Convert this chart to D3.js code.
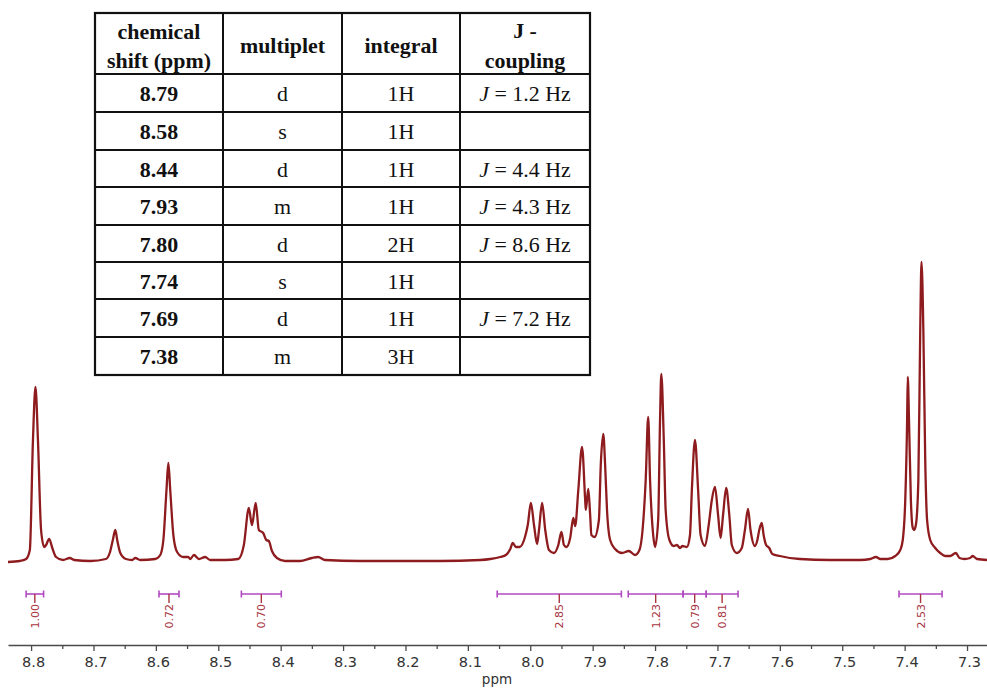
<!DOCTYPE html>
<html>
<head>
<meta charset="utf-8">
<script src="https://cdn.jsdelivr.net/npm/d3@7/dist/d3.min.js"></script>
<style>
  html, body { margin: 0; padding: 0; background: #ffffff; }
  svg { display: block; }
</style>
</head>
<body>
<svg id="chart" width="987" height="688"></svg>
<script>
// 1H NMR trace: chemical shift (ppm) and signal intensity (arbitrary units)
const shiftPpm = [
  8.837, 8.818, 8.808, 8.802, 8.797, 8.793, 8.789, 8.784, 8.779, 8.776, 8.771, 8.766, 8.760, 8.749, 8.738, 8.731,
  8.705, 8.680, 8.674, 8.669, 8.665, 8.662, 8.657, 8.648, 8.638, 8.633, 8.625, 8.601, 8.593, 8.588, 8.583, 8.580,
  8.577, 8.572, 8.566, 8.556, 8.548, 8.545, 8.539, 8.531, 8.521, 8.513, 8.489, 8.468, 8.459, 8.451, 8.446, 8.440,
  8.435, 8.428, 8.423, 8.419, 8.414, 8.406, 8.393, 8.369, 8.350, 8.340, 8.329, 8.273, 8.209, 8.145, 8.080, 8.064,
  8.048, 8.039, 8.032, 8.028, 8.023, 8.017, 8.008, 8.004, 7.999, 7.994, 7.989, 7.986, 7.981, 7.976, 7.970, 7.962,
  7.955, 7.950, 7.946, 7.942, 7.936, 7.931, 7.928, 7.923, 7.917, 7.912, 7.911, 7.907, 7.904, 7.902, 7.897, 7.890,
  7.887, 7.883, 7.880, 7.877, 7.872, 7.864, 7.853, 7.842, 7.832, 7.825, 7.820, 7.815, 7.811, 7.808, 7.803, 7.800,
  7.795, 7.792, 7.790, 7.786, 7.783, 7.777, 7.770, 7.765, 7.760, 7.756, 7.749, 7.744, 7.741, 7.736, 7.731, 7.727,
  7.720, 7.714, 7.709, 7.704, 7.699, 7.695, 7.691, 7.686, 7.681, 7.677, 7.669, 7.661, 7.656, 7.651, 7.647, 7.640,
  7.636, 7.633, 7.629, 7.626, 7.622, 7.617, 7.612, 7.600, 7.568, 7.520, 7.471, 7.455, 7.446, 7.439, 7.427, 7.415,
  7.407, 7.403, 7.399, 7.396, 7.395, 7.393, 7.390, 7.387, 7.385, 7.382, 7.378, 7.375, 7.373, 7.370, 7.367, 7.364,
  7.359, 7.351, 7.343, 7.335, 7.327, 7.318, 7.312, 7.304, 7.295, 7.291, 7.284, 7.268
];
const signal = [
  0, 1, 3, 12, 122, 175, 122, 32, 15, 17, 23, 14, 5, 2, 4, 2,
  1, 3, 9, 22, 32, 22, 9, 3, 2, 4, 2, 3, 7, 22, 72, 99,
  72, 27, 10, 5, 5, 3, 7, 3, 5, 2, 2, 3, 17, 54, 37, 59,
  32, 29, 22, 21, 11, 4, 1, 1, 4, 5, 2, 1, 1, 1, 2, 3,
  5, 7, 13, 19, 15, 15, 26, 37, 59, 37, 18, 32, 59, 32, 12, 9,
  17, 30, 17, 15, 24, 44, 36, 72, 115, 62, 52, 73, 47, 27, 25, 42,
  97, 128, 97, 52, 22, 13, 9, 11, 7, 12, 32, 82, 145, 82, 27, 15,
  42, 142, 188, 122, 52, 22, 16, 17, 14, 16, 15, 27, 72, 122, 72, 27,
  16, 37, 62, 75, 47, 24, 47, 74, 47, 17, 9, 14, 32, 53, 32, 16,
  22, 32, 39, 27, 17, 14, 8, 6, 3, 2, 2, 3, 5, 3, 3, 6,
  12, 22, 62, 142, 185, 142, 62, 34, 32, 37, 82, 232, 300, 232, 102, 42,
  22, 14, 9, 6, 6, 9, 4, 3, 4, 6, 3, 2
];

// Integral regions (ppm) and their normalised areas
const integralFrom  = [8.808, 8.595, 8.463, 8.053, 7.843, 7.755, 7.718, 7.409];
const integralTo    = [8.780, 8.563, 8.399, 7.854, 7.755, 7.718, 7.667, 7.340];
const integralValue = ["1.00", "0.72", "0.70", "2.85", "1.23", "0.79", "0.81", "2.53"];

// Axis ticks
const majorTicks = [8.8, 8.7, 8.6, 8.5, 8.4, 8.3, 8.2, 8.1, 8.0, 7.9, 7.8, 7.7, 7.6, 7.5, 7.4, 7.3];
const minorTicks = [8.75, 8.65, 8.55, 8.45, 8.35, 8.25, 8.15, 8.05, 7.95, 7.85, 7.75, 7.65, 7.55, 7.45, 7.35];

// Peak assignment table
const tableShift     = ["8.79", "8.58", "8.44", "7.93", "7.80", "7.74", "7.69", "7.38"];
const tableMultiplet = ["d", "s", "d", "m", "d", "s", "d", "m"];
const tableIntegral  = ["1H", "1H", "1H", "1H", "2H", "1H", "1H", "3H"];
const tableCoupling  = ["1.2", "", "4.4", "4.3", "8.6", "", "7.2", ""];

const svg = d3.select("#chart");

const x = d3.scaleLinear().domain([8.837, 7.268]).range([8, 987]);
const y = d3.scaleLinear().domain([0, 300]).range([562, 262]);

// Spectrum trace
const trace = shiftPpm.map((p, i) => [p, signal[i]]);
svg.append("path")
  .datum(trace)
  .attr("fill", "none")
  .attr("stroke", "#8e1b1e")
  .attr("stroke-width", 2.3)
  .attr("stroke-linejoin", "round")
  .attr("d", d3.line()
    .x(d => x(d[0]))
    .y(d => y(d[1]))
    .curve(d3.curveMonotoneX));

// Integral bars with end caps, stems and rotated values
const barY = 594;
const integrals = svg.append("g").selectAll("g")
  .data(integralValue.map((v, i) => ({ from: integralFrom[i], to: integralTo[i], value: v })))
  .join("g");

integrals.append("line")
  .attr("x1", d => x(d.from)).attr("x2", d => x(d.to))
  .attr("y1", barY).attr("y2", barY)
  .attr("stroke", "#b24ac2").attr("stroke-width", 1.6);
integrals.append("line")
  .attr("x1", d => x(d.from)).attr("x2", d => x(d.from))
  .attr("y1", barY - 3.5).attr("y2", barY + 3.5)
  .attr("stroke", "#b24ac2").attr("stroke-width", 1.6);
integrals.append("line")
  .attr("x1", d => x(d.to)).attr("x2", d => x(d.to))
  .attr("y1", barY - 3.5).attr("y2", barY + 3.5)
  .attr("stroke", "#b24ac2").attr("stroke-width", 1.6);
integrals.append("line")
  .attr("x1", d => x((d.from + d.to) / 2)).attr("x2", d => x((d.from + d.to) / 2))
  .attr("y1", barY).attr("y2", barY + 9)
  .attr("stroke", "#a8343f").attr("stroke-width", 1.4);
integrals.append("text")
  .attr("transform", d => `translate(${x((d.from + d.to) / 2)},${barY + 10}) rotate(-90)`)
  .attr("text-anchor", "end")
  .attr("dy", "0.36em")
  .attr("font-family", "'DejaVu Sans', Verdana, sans-serif")
  .attr("font-size", 11)
  .attr("fill", "#a8343f")
  .text(d => d.value);

// Chemical shift axis
const axisY = 645;
const major = svg.append("g")
  .attr("transform", `translate(0,${axisY})`)
  .call(d3.axisBottom(x).tickValues(majorTicks).tickSize(6).tickSizeOuter(0).tickFormat(d3.format(".1f")));
major.select(".domain").attr("stroke", "#4a4a4a").attr("stroke-width", 1.3);
major.selectAll(".tick line").attr("stroke", "#4a4a4a").attr("stroke-width", 1.3);
major.selectAll(".tick text")
  .attr("y", 12).attr("dx", 2).attr("dy", "0.71em")
  .attr("font-family", "'DejaVu Sans', Verdana, sans-serif")
  .attr("font-size", 14.5)
  .attr("fill", "#333");
const minor = svg.append("g")
  .attr("transform", `translate(0,${axisY})`)
  .call(d3.axisBottom(x).tickValues(minorTicks).tickSize(4).tickFormat(""));
minor.select(".domain").remove();
minor.selectAll(".tick line").attr("stroke", "#4a4a4a").attr("stroke-width", 1.3);

svg.append("text")
  .attr("x", 497).attr("y", 684)
  .attr("text-anchor", "middle")
  .attr("font-family", "'DejaVu Sans', Verdana, sans-serif")
  .attr("font-size", 13.5)
  .attr("fill", "#333")
  .text("ppm");

// Peak table
const colX = [95, 223, 342, 460, 590];
const rowY = [13, 74, 112, 150, 187, 225, 262, 299, 337, 375];
const table = svg.append("g");
table.append("rect")
  .attr("x", colX[0]).attr("y", rowY[0])
  .attr("width", colX[4] - colX[0]).attr("height", rowY[9] - rowY[0])
  .attr("fill", "#fff").attr("stroke", "#111").attr("stroke-width", 2.2);
colX.slice(1, 4).forEach(cx => table.append("line")
  .attr("x1", cx).attr("x2", cx).attr("y1", rowY[0]).attr("y2", rowY[9])
  .attr("stroke", "#111").attr("stroke-width", 2));
rowY.slice(1, 9).forEach(ry => table.append("line")
  .attr("x1", colX[0]).attr("x2", colX[4]).attr("y1", ry).attr("y2", ry)
  .attr("stroke", "#111").attr("stroke-width", 2));

const serif = "'Liberation Serif', 'Times New Roman', serif";
function cell(cx, by, bold) {
  return table.append("text")
    .attr("transform", `translate(${cx},${by}) scale(1.07,1)`)
    .attr("text-anchor", "middle")
    .attr("font-family", serif)
    .attr("font-size", 20.5)
    .attr("font-weight", bold ? "bold" : "normal")
    .attr("fill", "#111");
}
const mid = i => (colX[i] + colX[i + 1]) / 2;

cell(mid(0), 39, true).text("chemical");
cell(mid(0), 68, true).text("shift (ppm)");
cell(mid(1), 53, true).text("multiplet");
cell(mid(2), 53, true).text("integral");
cell(mid(3), 38, true).text("J -");
cell(mid(3), 68, true).text("coupling");

tableShift.forEach((s, i) => {
  const by = (rowY[i + 1] + rowY[i + 2]) / 2 + 8;
  cell(mid(0), by, true).text(s);
  cell(mid(1), by, false).text(tableMultiplet[i]);
  cell(mid(2), by, false).text(tableIntegral[i]);
  if (tableCoupling[i]) {
    const t = cell(mid(3), by, false);
    t.append("tspan").attr("font-style", "italic").text("J");
    t.append("tspan").text(` = ${tableCoupling[i]} Hz`);
  }
});
</script>
</body>
</html>
